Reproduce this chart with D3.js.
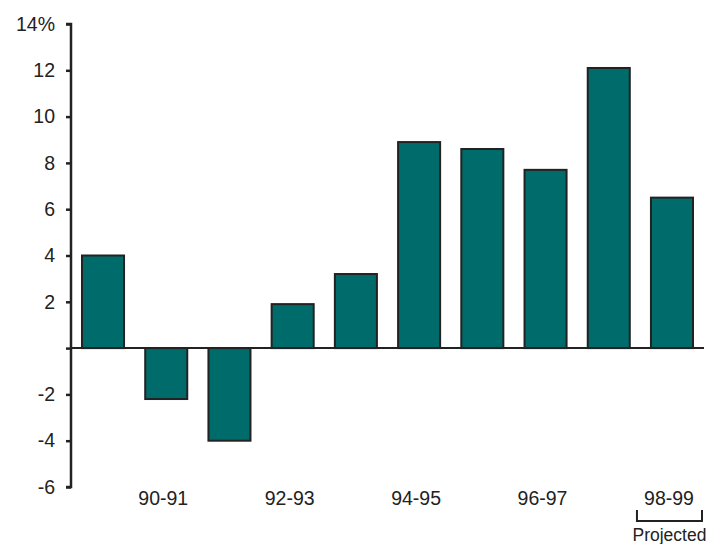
<!DOCTYPE html>
<meta charset="utf-8">
<script src="https://d3js.org/d3.v7.min.js"></script>
<style>
  body { margin: 0; background: #fff; }
  text { font-family: "Liberation Sans", Arial, sans-serif; fill: #222; }
</style>
<div id="my_dataviz"></div>
<script>
  // data
  const periods = ["89-90", "90-91", "91-92", "92-93", "93-94", "94-95", "95-96", "96-97", "97-98", "98-99"];
  const growth = [4.0, -2.2, -4.0, 1.9, 3.2, 8.9, 8.6, 7.7, 12.1, 6.5];
  const yTicks = [-6, -4, -2, 0, 2, 4, 6, 8, 10, 12, 14];
  const shownLabels = ["90-91", "92-93", "94-95", "96-97", "98-99"];

  const W = 710, H = 544;
  const margin = {top: 24, right: 6, bottom: 57, left: 71};

  const svg = d3.select("#my_dataviz")
    .append("svg")
    .attr("width", W)
    .attr("height", H);

  const x = d3.scaleBand()
    .domain(periods)
    .range([margin.left, W - margin.right])
    .paddingInner(0.335)
    .paddingOuter(0.174);

  const y = d3.scaleLinear()
    .domain([-6, 14])
    .range([H - margin.bottom, margin.top]);

  // bars
  svg.selectAll("rect.bar")
    .data(growth)
    .join("rect")
    .attr("class", "bar")
    .attr("x", (d, i) => x(periods[i]))
    .attr("width", x.bandwidth())
    .attr("y", d => y(Math.max(0, d)))
    .attr("height", d => Math.abs(y(d) - y(0)))
    .attr("fill", "#006b6b")
    .attr("stroke", "#222")
    .attr("stroke-width", 2);

  // zero line
  svg.append("line")
    .attr("x1", margin.left)
    .attr("x2", W - margin.right)
    .attr("y1", y(0))
    .attr("y2", y(0))
    .attr("stroke", "#222")
    .attr("stroke-width", 2);

  // y axis
  const yAxis = svg.append("g")
    .attr("transform", `translate(${margin.left},0)`)
    .call(d3.axisLeft(y)
      .tickValues(yTicks)
      .tickSize(5)
      .tickPadding(11)
      .tickFormat(d => d === 14 ? "14%" : (d === 0 ? "" : d)));
  yAxis.select(".domain").attr("stroke", "#222").attr("stroke-width", 2.5)
    .attr("d", `M-5,${y(14)}H0V${y(-6)}H-5`);
  yAxis.selectAll(".tick line").attr("stroke", "#222").attr("stroke-width", 2.5);
  yAxis.selectAll(".tick text")
    .attr("fill", "#222")
    .style("font-size", "19.5px")
    .style("font-family", "'Liberation Sans', Arial, sans-serif");

  // x labels (every other period)
  svg.selectAll("text.xlab")
    .data(shownLabels)
    .join("text")
    .attr("class", "xlab")
    .attr("x", d => x(d) + x.bandwidth() / 2 - 3)
    .attr("y", H - 39)
    .attr("text-anchor", "middle")
    .style("font-size", "19.5px")
    .text(d => d);

  // projected bracket under last period
  const last = periods[periods.length - 1];
  const bx0 = x(last) - 14, bx1 = x(last) + x.bandwidth() + 9;
  svg.append("path")
    .attr("d", `M${bx0},${H - 34}V${H - 23}H${bx1}V${H - 34}`)
    .attr("fill", "none")
    .attr("stroke", "#222")
    .attr("stroke-width", 2);
  svg.append("text")
    .attr("x", (bx0 + bx1) / 2)
    .attr("y", H - 3)
    .attr("text-anchor", "middle")
    .style("font-size", "17.5px")
    .text("Projected");
</script>
